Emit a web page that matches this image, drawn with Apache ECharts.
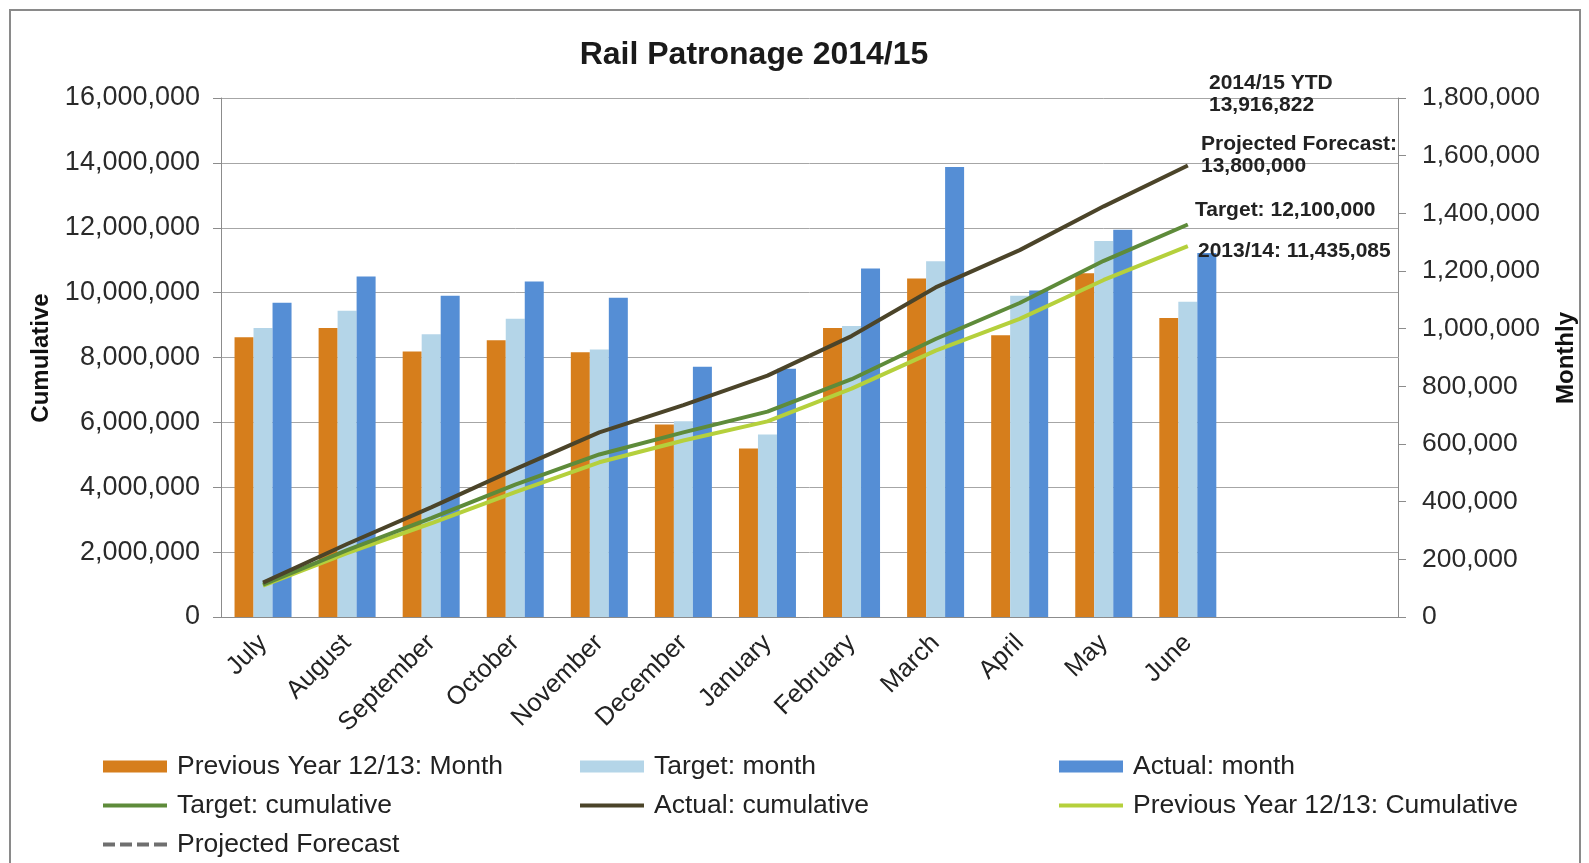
<!DOCTYPE html>
<html>
<head>
    <meta charset="UTF-8">
    <title>Rail Patronage 2014/15</title>
    <style>
        html, body { margin: 0; padding: 0; background: #fff; }
        #main { width: 1589px; height: 863px; }
    </style>
</head>
<body>
    <div id="main"></div>
    <script src="https://cdn.jsdelivr.net/npm/echarts@6/dist/echarts.min.js"></script>
    <script type="text/javascript">
        // months (two empty slots at the end, as in the original sheet)
        let months = ['July', 'August', 'September', 'October', 'November', 'December',
            'January', 'February', 'March', 'April', 'May', 'June', '', ''];

        // monthly values (right axis)
        let prevMonth = [970000, 1002000, 921000, 960000, 918000, 668000, 584000, 1002000, 1174000, 977000, 1192000, 1037000];
        let targetMonth = [1002000, 1062000, 981000, 1034000, 928000, 679000, 633000, 1009000, 1234000, 1114000, 1304000, 1093000];
        let actualMonth = [1090000, 1181000, 1114000, 1164000, 1107000, 868000, 861000, 1209000, 1561000, 1132000, 1343000, 1262000];

        // cumulative values (left axis)
        let targetCum = [1000000, 2060000, 3050000, 4080000, 5010000, 5690000, 6330000, 7330000, 8570000, 9680000, 10980000, 12100000];
        let actualCum = [1060000, 2250000, 3380000, 4560000, 5690000, 6530000, 7440000, 8660000, 10160000, 11310000, 12660000, 13916822];
        let prevCum = [970000, 1970000, 2890000, 3850000, 4770000, 5440000, 6030000, 7040000, 8210000, 9190000, 10390000, 11435085];
        let forecastCum = [];

        let fmt = v => v.toLocaleString('en-US');
        let font = '"Liberation Sans", Arial, sans-serif';
        let txt = '#222';
        let dashIcon = 'path://M0,0h12v4h-12zM17,0h12v4h-12zM34,0h12v4h-12zM51,0h13v4h-13z';

        let myChart = echarts.init(document.getElementById('main'));

        function leg(name, left, top, icon, h) {
            return {
                data: [name], left: left, top: top, padding: 0,
                icon: icon, itemWidth: 64, itemHeight: h,
                textStyle: { fontSize: 26.5, color: txt, fontFamily: font, padding: [0, 0, 0, 5] }
            };
        }

        function note(x, y, text) {
            return {
                type: 'text', left: x, top: y, z: 100,
                style: { text: text, font: 'bold 21px ' + font, fill: '#222', lineHeight: 22 }
            };
        }

        myChart.setOption({
            backgroundColor: '#fff',
            animation: false,
            title: {
                text: 'Rail Patronage 2014/15',
                left: 749, top: 34, textAlign: 'center',
                textStyle: { fontSize: 32, fontWeight: 'bold', color: '#1a1a1a', fontFamily: font }
            },
            grid: { left: 221, right: 191, top: 98, bottom: 246, containLabel: false, outerBoundsMode: 'none' },
            legend: [
                leg('Previous Year 12/13: Month', 103, 753, 'rect', 12),
                leg('Target: month', 580, 753, 'rect', 12),
                leg('Actual: month', 1059, 753, 'rect', 12),
                leg('Target: cumulative', 103, 792, 'rect', 4),
                leg('Actual: cumulative', 580, 792, 'rect', 4),
                leg('Previous Year 12/13: Cumulative', 1059, 792, 'rect', 4),
                leg('Projected Forecast', 103, 831, dashIcon, 4)
            ],
            xAxis: {
                type: 'category',
                data: months,
                axisLine: { lineStyle: { color: '#8c8c8c', width: 1 } },
                axisTick: { length: 7, lineStyle: { color: '#8c8c8c' } },
                axisLabel: { interval: 0, rotate: 45, fontSize: 25.5, color: txt, fontFamily: font, margin: 22 }
            },
            yAxis: [{
                type: 'value', min: 0, max: 16000000, interval: 2000000,
                axisLine: { show: true, lineStyle: { color: '#8c8c8c' } },
                axisTick: { show: true, length: 8, lineStyle: { color: '#8c8c8c' } },
                axisLabel: { fontSize: 27, color: '#2a2a2a', fontFamily: font, margin: 21, formatter: fmt },
                splitLine: { lineStyle: { color: '#a6a6a6', width: 1 } }
            }, {
                type: 'value', min: 0, max: 1800000, interval: 200000,
                position: 'right',
                axisLine: { show: true, lineStyle: { color: '#8c8c8c' } },
                axisTick: { show: true, length: 8, lineStyle: { color: '#8c8c8c' } },
                axisLabel: { fontSize: 26.5, color: '#2a2a2a', fontFamily: font, margin: 24, formatter: fmt },
                splitLine: { show: false }
            }],
            series: [
                { name: 'Previous Year 12/13: Month', type: 'bar', yAxisIndex: 1, data: prevMonth, barWidth: 19, barGap: '0%', itemStyle: { color: '#d67e1c' } },
                { name: 'Target: month', type: 'bar', yAxisIndex: 1, data: targetMonth, barWidth: 19, barGap: '0%', itemStyle: { color: '#b4d5e8' } },
                { name: 'Actual: month', type: 'bar', yAxisIndex: 1, data: actualMonth, barWidth: 19, barGap: '0%', itemStyle: { color: '#558ed5' } },
                { name: 'Target: cumulative', type: 'line', yAxisIndex: 0, data: targetCum, symbol: 'none', lineStyle: { width: 4, color: '#5e8b3a' }, itemStyle: { color: '#5e8b3a' }, z: 5 },
                { name: 'Actual: cumulative', type: 'line', yAxisIndex: 0, data: actualCum, symbol: 'none', lineStyle: { width: 4, color: '#4b4429' }, itemStyle: { color: '#4b4429' }, z: 6 },
                { name: 'Previous Year 12/13: Cumulative', type: 'line', yAxisIndex: 0, data: prevCum, symbol: 'none', lineStyle: { width: 4, color: '#b5d03c' }, itemStyle: { color: '#b5d03c' }, z: 4 },
                { name: 'Projected Forecast', type: 'line', yAxisIndex: 0, data: forecastCum, symbol: 'none', lineStyle: { width: 4, color: '#6f6f6f', type: [10, 5] }, itemStyle: { color: '#6f6f6f' } }
            ],
            graphic: [
                { type: 'rect', shape: { x: 10, y: 10, width: 1570, height: 880 }, style: { fill: 'none', stroke: '#8a8a8a', lineWidth: 2 }, z: -1 },
                { type: 'text', x: 41, y: 358, rotation: Math.PI / 2, style: { text: 'Cumulative', font: 'bold 24px ' + font, fill: '#111', align: 'center', verticalAlign: 'middle' } },
                { type: 'text', x: 1566, y: 358, rotation: Math.PI / 2, style: { text: 'Monthly', font: 'bold 24px ' + font, fill: '#111', align: 'center', verticalAlign: 'middle' } },
                note(1209, 72, '2014/15 YTD\n13,916,822'),
                note(1201, 133, 'Projected Forecast:\n13,800,000'),
                note(1195, 199, 'Target: 12,100,000'),
                note(1198, 240, '2013/14: 11,435,085')
            ]
        });
    </script>
</body>
</html>
